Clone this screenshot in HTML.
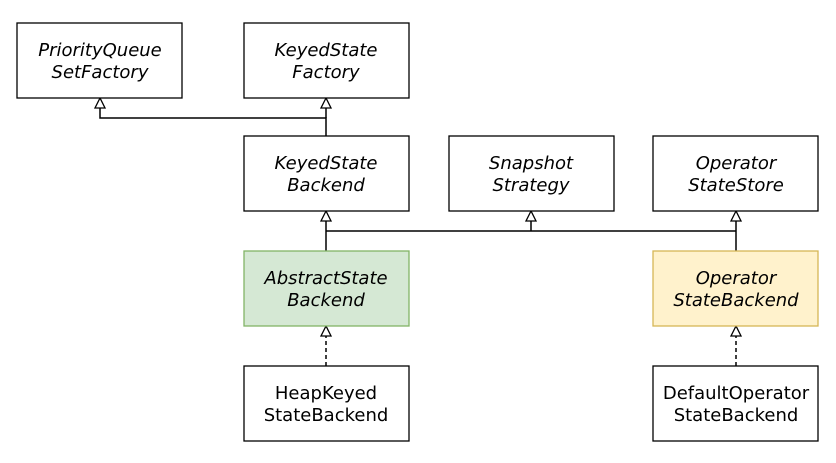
<!DOCTYPE html>
<html><head><style>
body{margin:0;background:#fff;}
svg text{font-family:"DejaVu Sans",Verdana,sans-serif;font-size:18px;fill:#000;text-anchor:middle;}
.i{font-style:italic;}
</style></head><body>
<svg width="836" height="458" xmlns="http://www.w3.org/2000/svg">
<g fill="none" stroke="#000" stroke-width="1.5">
<path d="M326 136V118H100V108"/>
<path d="M326 118V108"/>
<path d="M326 251V221"/>
<path d="M326 231H736"/>
<path d="M531 231V221"/>
<path d="M736 251V221"/>
<path d="M326 366V336" stroke-dasharray="4 3"/>
<path d="M736 366V336" stroke-dasharray="4 3"/>
</g>
<g fill="#fff" stroke="#000" stroke-width="1.3">
<path d="M100 98l-5 10h10z"/>
<path d="M326 98l-5 10h10z"/>
<path d="M326 211l-5 10h10z"/>
<path d="M531 211l-5 10h10z"/>
<path d="M736 211l-5 10h10z"/>
<path d="M326 326l-5 10h10z"/>
<path d="M736 326l-5 10h10z"/>
</g>
<g stroke="#000" stroke-width="1.3" fill="#fff">
<rect x="17" y="23" width="165" height="75"/>
<rect x="244" y="23" width="165" height="75"/>
<rect x="244" y="136" width="165" height="75"/>
<rect x="449" y="136" width="165" height="75"/>
<rect x="653" y="136" width="165" height="75"/>
<rect x="244" y="251" width="165" height="75" fill="#d5e8d4" stroke="#82b366"/>
<rect x="653" y="251" width="165" height="75" fill="#fff2cc" stroke="#d6b656"/>
<rect x="244" y="366" width="165" height="75"/>
<rect x="653" y="366" width="165" height="75"/>
</g>
<text class="i" x="100" y="56">PriorityQueue</text><text class="i" x="100" y="78">SetFactory</text>
<text class="i" x="326" y="56">KeyedState</text><text class="i" x="326" y="78">Factory</text>
<text class="i" x="326" y="169">KeyedState</text><text class="i" x="326" y="191">Backend</text>
<text class="i" x="531" y="169">Snapshot</text><text class="i" x="531" y="191">Strategy</text>
<text class="i" x="736" y="169">Operator</text><text class="i" x="736" y="191">StateStore</text>
<text class="i" x="326" y="284">AbstractState</text><text class="i" x="326" y="306">Backend</text>
<text class="i" x="736" y="284">Operator</text><text class="i" x="736" y="306">StateBackend</text>
<text x="326" y="399">HeapKeyed</text><text x="326" y="421">StateBackend</text>
<text x="736" y="399">DefaultOperator</text><text x="736" y="421">StateBackend</text>
</svg>
</body></html>
